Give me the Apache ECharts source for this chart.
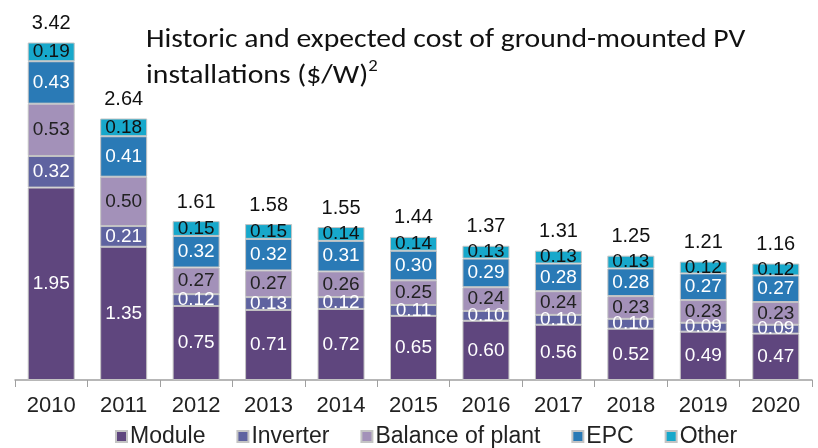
<!DOCTYPE html>
<html><head><meta charset="utf-8">
<script src="https://cdn.jsdelivr.net/npm/echarts@6/dist/echarts.min.js"></script>
<style>html,body{margin:0;padding:0;background:#fff}#c{width:818px;height:448px}</style>
</head><body><div id="c"></div>
<script>
const categories = ['2010','2011','2012','2013','2014','2015','2016','2017','2018','2019','2020'];
const module_ = [1.95,1.35,0.75,0.71,0.72,0.65,0.60,0.56,0.52,0.49,0.47];
const inverter = [0.32,0.21,0.12,0.13,0.12,0.11,0.10,0.10,0.10,0.09,0.09];
const balance = [0.53,0.50,0.27,0.27,0.26,0.25,0.24,0.24,0.23,0.23,0.23];
const epc = [0.43,0.41,0.32,0.32,0.31,0.30,0.29,0.28,0.28,0.27,0.27];
const other = [0.19,0.18,0.15,0.15,0.14,0.14,0.13,0.13,0.13,0.12,0.12];
const totals = ['3.42','2.64','1.61','1.58','1.55','1.44','1.37','1.31','1.25','1.21','1.16'];

const FONT = '"Liberation Sans", Arial, sans-serif';
function seg(name, data, color, labelColor) {
  return {
    name, type: 'bar', stack: 'cost', data, barWidth: 47,
    itemStyle: { color, borderColor: '#c4c4c4', borderWidth: 1 },
    label: { show: true, position: 'inside', color: labelColor, fontFamily: FONT, fontSize: 19,
      formatter: p => p.value.toFixed(2) }
  };
}
const chart = echarts.init(document.getElementById('c'));
chart.setOption({
  animation: false,
  graphic: [{
    type: 'text', left: 146, top: 22, scaleX: 1.1, scaleY: 1,
    style: {
      text: 'Historic and expected cost of ground-mounted PV\ninstallations ($/W){s|2}',
      font: '27px Carlito, Calibri, sans-serif', fill: '#111', lineHeight: 36,
      rich: { s: { fontSize: 17, fontFamily: 'Carlito', verticalAlign: 'top', lineHeight: 36, padding: [0,0,12,0], color: '#111' } }
    }
  }],
  legend: {
    top: 420, left: 110, icon: 'rect', itemWidth: 11, itemHeight: 11, itemGap: 31,
    data: ['Module','Inverter','Balance of plant','EPC','Other'],
    textStyle: { fontFamily: FONT, fontSize: 23, color: '#222', padding: [0,0,0,-2] }
  },
  grid: { left: 15, right: 6, top: 5, bottom: 68 },
  xAxis: {
    type: 'category', data: categories,
    axisLine: { lineStyle: { color: '#a0a0a0', width: 1.5 } },
    axisTick: { show: true, length: 7, lineStyle: { color: '#a0a0a0' } },
    axisLabel: { fontFamily: FONT, fontSize: 22, color: '#222', margin: 15 }
  },
  yAxis: { type: 'value', min: 0, max: 3.8, show: false, splitLine: { show: false } },
  series: [
    seg('Module', module_, '#5f467e', '#ffffff'),
    seg('Inverter', inverter, '#5f63a0', '#ffffff'),
    seg('Balance of plant', balance, '#a391b9', '#222222'),
    seg('EPC', epc, '#2a7ab6', '#ffffff'),
    seg('Other', other, '#17a8cb', '#111111'),
    { name: 'Total', type: 'bar', stack: 'cost', barWidth: 47, data: categories.map(() => 0),
      itemStyle: { color: 'transparent' },
      label: { show: true, position: 'top', distance: 9, color: '#111', fontFamily: FONT, fontSize: 20,
        formatter: p => totals[p.dataIndex] } }
  ]
});
</script></body></html>
